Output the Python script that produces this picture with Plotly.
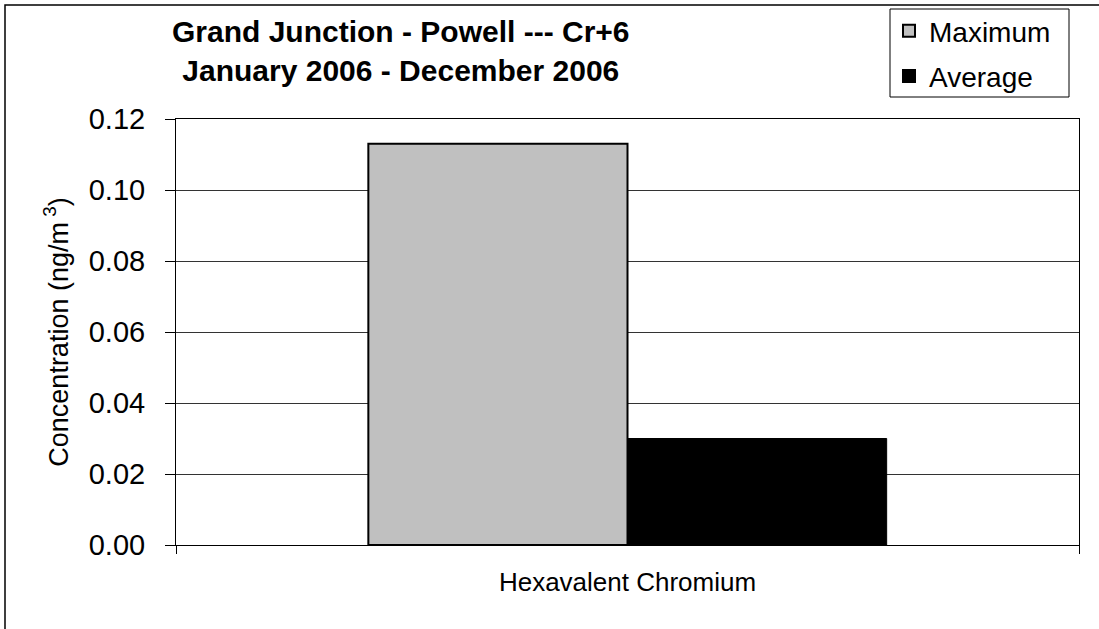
import plotly.graph_objects as go

categories = ["Hexavalent Chromium"]
maximum_values = [0.113]
average_values = [0.030]
series_names = ["Maximum", "Average"]
y_tick_values = [0.00, 0.02, 0.04, 0.06, 0.08, 0.10, 0.12]
y_tick_labels = ["0.00", "0.02", "0.04", "0.06", "0.08", "0.10", "0.12"]
title_lines = ["Grand Junction - Powell --- Cr+6", "January 2006 - December 2006"]
y_title = "Concentration (ng/m<sup> 3</sup>)"

FONT = "Liberation Sans, Arial, sans-serif"

fig = go.Figure()
fig.add_trace(go.Bar(
    x=categories, y=maximum_values, name=series_names[0],
    marker=dict(color="#C0C0C0", line=dict(color="black", width=2)),
    legendgroup="a",
))
fig.add_trace(go.Bar(
    x=categories, y=average_values, name=series_names[1],
    marker=dict(color="black", line=dict(color="black", width=1)),
    legendgroup="b",
))

L, R, T, B = 176, 20, 119, 84
W, H = 1099, 629
pw = W - L - R
ph = H - T - B

def px_x(px):
    return (px - L) / pw

def px_y(py):
    return (H - B - py) / ph

fig.update_layout(
    width=W, height=H,
    margin=dict(l=L, r=R, t=T, b=B, pad=0, autoexpand=False),
    paper_bgcolor="white", plot_bgcolor="white",
    font=dict(family=FONT, color="black"),
    barmode="group", bargap=0.426, bargroupgap=0,
    showlegend=True,
    legend=dict(
        x=px_x(889), y=px_y(6), xanchor="left", yanchor="top",
        borderwidth=0, bgcolor="rgba(0,0,0,0)",
        font=dict(size=28, family=FONT),
        tracegroupgap=6, itemsizing="constant",
    ),
    annotations=[dict(
        text="<b>" + title_lines[0] + "<br>" + title_lines[1] + "</b>",
        xref="paper", yref="paper",
        x=px_x(401), y=px_y(51), xanchor="center", yanchor="middle",
        showarrow=False,
        font=dict(size=30, family=FONT, color="black"),
    )],
    shapes=[
        dict(
            type="rect", xref="paper", yref="paper",
            x0=px_x(5), x1=px_x(1200), y0=px_y(700), y1=px_y(5),
            line=dict(color="black", width=1.5), fillcolor="rgba(0,0,0,0)",
            layer="below",
        ),
        dict(
            type="rect", xref="paper", yref="paper",
            x0=px_x(890), x1=px_x(1069), y0=px_y(97), y1=px_y(9),
            line=dict(color="black", width=1), fillcolor="rgba(0,0,0,0)",
            layer="above",
        ),
    ],
)

fig.update_xaxes(
    showline=True, linecolor="black", linewidth=1, mirror=True,
    ticks="outside", tickson="boundaries", ticklen=8, tickcolor="black",
    tickfont=dict(size=26, family=FONT),
    ticklabelstandoff=14,
    showgrid=False,
)
fig.update_yaxes(
    range=[0, 0.12],
    tickvals=y_tick_values, ticktext=y_tick_labels,
    showline=True, linecolor="black", linewidth=1, mirror=True,
    ticks="outside", ticklen=10, tickcolor="black",
    tickfont=dict(size=29, family=FONT),
    ticklabelstandoff=14,
    showgrid=True, gridcolor="#333333", gridwidth=1,
    zeroline=False,
    title=dict(text=y_title, font=dict(size=27, family=FONT), standoff=12),
)

fig.write_html(
    "out.html",
    config={"displayModeBar": False},
    post_script="document.body.style.margin='0';",
)
